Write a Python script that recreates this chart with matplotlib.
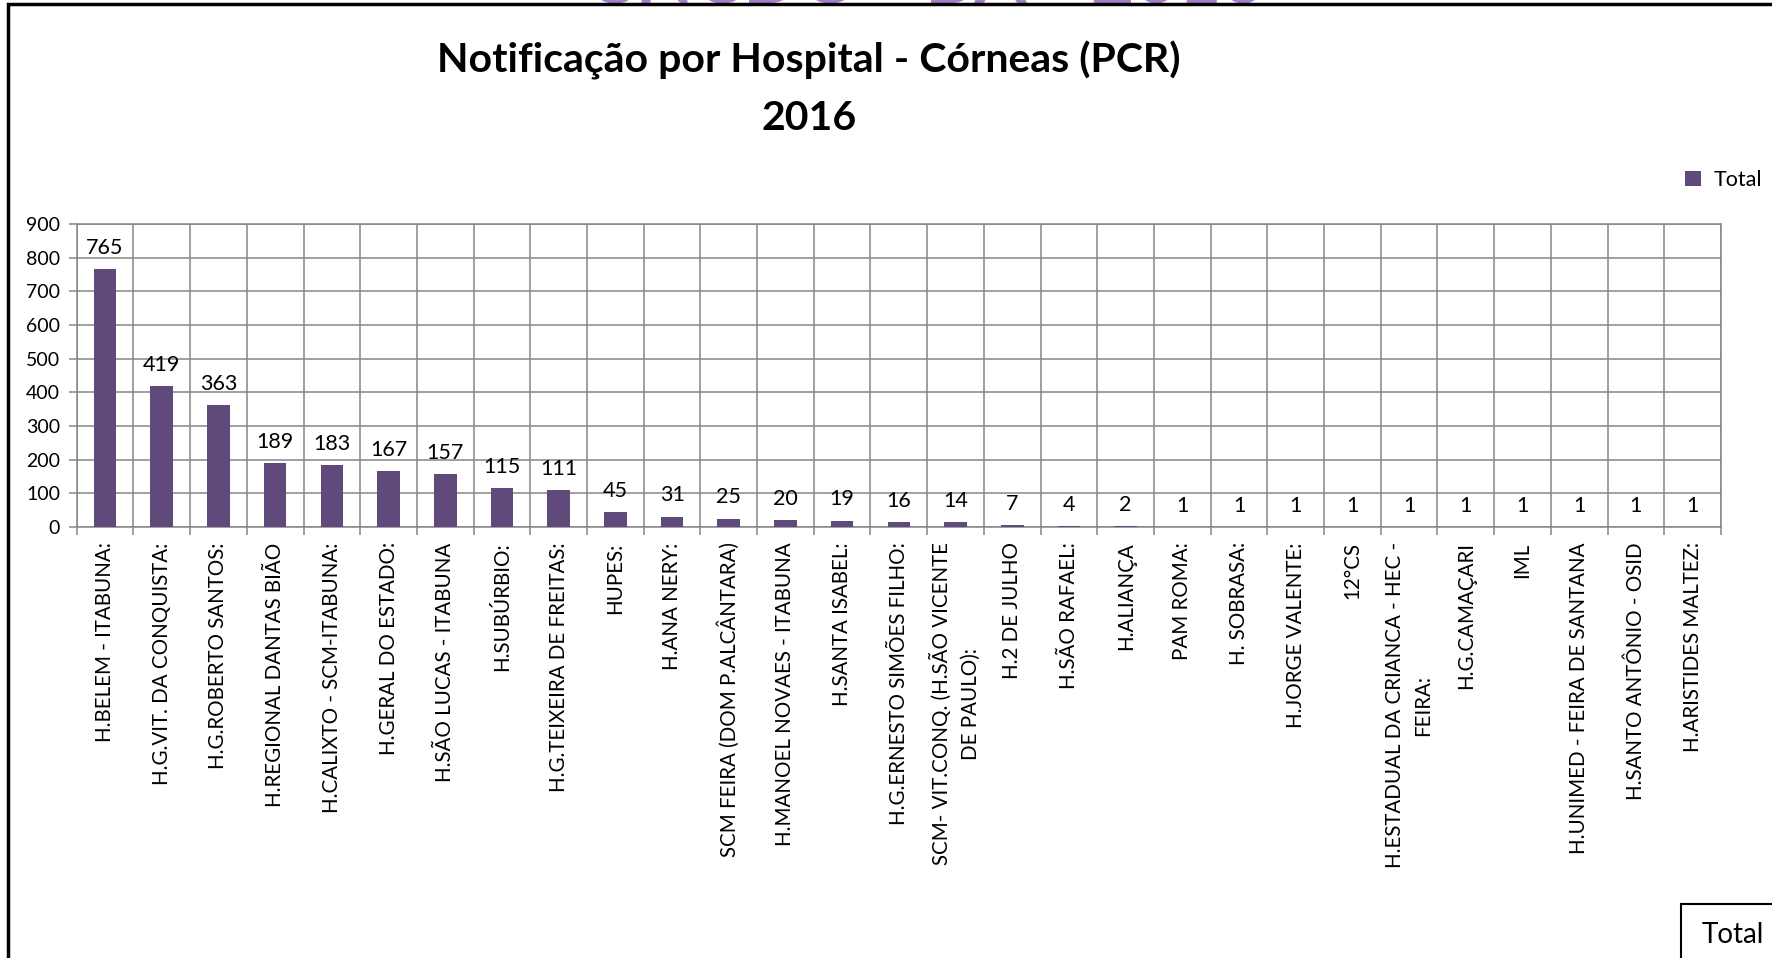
import matplotlib.pyplot as plt
from matplotlib.patches import Rectangle
import numpy as np

hospitais = [
    "H.BELEM - ITABUNA:",
    "H.G.VIT. DA CONQUISTA:",
    "H.G.ROBERTO SANTOS:",
    "H.REGIONAL DANTAS BIÃO",
    "H.CALIXTO - SCM-ITABUNA:",
    "H.GERAL DO ESTADO:",
    "H.SÃO LUCAS - ITABUNA",
    "H.SUBÚRBIO:",
    "H.G.TEIXEIRA DE FREITAS:",
    "HUPES:",
    "H.ANA NERY:",
    "SCM FEIRA (DOM P.ALCÂNTARA)",
    "H.MANOEL NOVAES - ITABUNA",
    "H.SANTA ISABEL:",
    "H.G.ERNESTO SIMÕES FILHO:",
    "SCM- VIT.CONQ. (H.SÃO VICENTE\nDE PAULO):",
    "H.2 DE JULHO",
    "H.SÃO RAFAEL:",
    "H.ALIANÇA",
    "PAM ROMA:",
    "H. SOBRASA:",
    "H.JORGE VALENTE:",
    "12°CS",
    "H.ESTADUAL DA CRIANCA - HEC -\nFEIRA:",
    "H.G.CAMAÇARI",
    "IML",
    "H.UNIMED - FEIRA DE SANTANA",
    "H.SANTO ANTÔNIO - OSID",
    "H.ARISTIDES MALTEZ:",
]
notificacoes = [765, 419, 363, 189, 183, 167, 157, 115, 111, 45, 31, 25, 20,
                19, 16, 14, 7, 4, 2, 1, 1, 1, 1, 1, 1, 1, 1, 1, 1]

W, H = 1772, 958
cor_barra = '#604A7B'
cor_grade = '#868686'

plt.rcParams['font.family'] = ['Lato', 'DejaVu Sans']

fig = plt.figure(figsize=(W / 100, H / 100), dpi=100)
ax = fig.add_axes([76.7 / W, 1 - 527 / H, (1721 - 76.7) / W, (527 - 224) / H])

x = np.arange(len(hospitais))
barras = ax.bar(x, notificacoes, width=0.4, color=cor_barra, zorder=3, label='Total')

ax.set_xlim(-0.5, len(x) - 0.5)
ax.set_ylim(0, 900)
ax.set_yticks(range(0, 901, 100))

# ticks nas divisas das categorias, rotulos no meio
ax.set_xticks(np.arange(-0.5, len(x)))
ax.set_xticklabels([])
ax.set_xticks(x, minor=True)
ax.set_xticklabels(hospitais, minor=True, rotation=90, fontsize=14.8,
                   multialignment='center', linespacing=1.55)
ax.tick_params(axis='x', which='minor', length=0, pad=11)
ax.tick_params(axis='x', which='major', length=6, color=cor_grade, width=1.1)
ax.tick_params(axis='y', length=6, color=cor_grade, width=1.1, labelsize=14, pad=6)

ax.grid(True, which='major', color=cor_grade, lw=1.1, zorder=0)
for s in ax.spines.values():
    s.set_color(cor_grade)
    s.set_linewidth(1.1)

for xi, v in zip(x, notificacoes):
    ax.annotate(str(v), (xi, v), xytext=(0, 8), textcoords='offset points',
                ha='center', va='bottom', fontsize=15.5)

fig.text(809 / W, 1 - 60 / H, 'Notificação por Hospital - Córneas (PCR)',
         ha='center', va='center', fontsize=29.5, fontweight='bold')
fig.text(809 / W, 1 - 118 / H, '2016', ha='center', va='center',
         fontsize=29.5, fontweight='bold')

# texto roxo cortado no topo
fig.text(926 / W, 1 - 4 / H, 'CNCDO - BA - 2016', ha='center', va='baseline',
         fontsize=54, fontweight='bold', color='#A57FC8')

fig.legend(handles=[barras], labels=['Total'], loc='center left',
           bbox_to_anchor=(1674 / W, 1 - 180 / H), frameon=False,
           handlelength=0.75, handleheight=0.75, handletextpad=0.6,
           borderpad=0, fontsize=15.5)

fig.patches.append(Rectangle((1681 / W, -0.1), 0.2, 0.1 + 1 - 904 / H,
                             transform=fig.transFigure, fill=False,
                             ec='black', lw=1.5))
fig.text(1702 / W, 1 - 935 / H, 'Total', ha='left', va='center', fontsize=20)

fig.patches.append(Rectangle((8 / W, -0.1), 1.1, 0.1 + 1 - 4 / H,
                             transform=fig.transFigure, fill=False,
                             ec='black', lw=2.5, zorder=10))

fig.savefig('out.png', dpi=100)
